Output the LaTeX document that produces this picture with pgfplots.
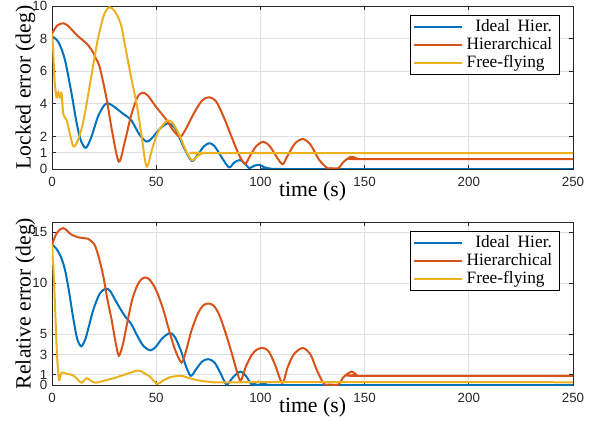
\documentclass[border=0pt]{standalone}
\usepackage{fontspec}
\setmainfont{Liberation Serif}
\newfontfamily\helv{Liberation Sans}
\usepackage{pgfplots}
\pgfplotsset{compat=1.18}
\definecolor{cBlue}{HTML}{0072BD}
\definecolor{cRed}{HTML}{D95319}
\definecolor{cYel}{HTML}{EDB120}
\definecolor{cAx}{HTML}{262626}
\definecolor{cGrid}{HTML}{DFDFDF}

\pgfplotsset{
  errax/.style={
    scale only axis, width=390.75pt, height=122.25pt,
    xmin=0, xmax=250, xtick={0,50,100,150,200,250},
    axis line style={cAx, line width=0.6pt},
    tick style={cAx, line width=0.5pt}, major tick length=3pt,
    tick align=inside,
    grid=major, grid style={cGrid, line width=0.5pt},
    /pgf/number format/assume math mode=true,
    tick label style={font=\helv\fontsize{10}{12}\selectfont, text=cAx},
    xticklabel style={yshift=-2.5pt},
    label style={font=\fontsize{16.3}{18}\selectfont},
    xlabel={time (s)},
    xlabel style={at={(axis description cs:0.5,0)}, anchor=center, yshift=-16.5pt},
    ylabel style={at={(axis description cs:0,0.5)}, anchor=center, yshift=20pt},
    legend style={at={(1,1)}, anchor=north east, xshift=-10.3pt, yshift=-7pt,
      draw=black, line width=0.5pt, fill=white, inner sep=2pt,
      font=\fontsize{13}{13.4}\selectfont,
      nodes={text height=9.6pt, text depth=3pt, inner ysep=0.35pt, inner xsep=3pt}},
    legend cell align=left,
    legend image code/.code={\draw[#1] (0pt,0pt) -- (36pt,0pt);},
    every axis plot/.append style={line width=1.5pt, smooth, tension=0.5},
  }
}

\begin{document}
\begin{tikzpicture}
% top: locked error
\begin{axis}[errax, at={(0pt,0pt)}, anchor=south west,
  ymin=0, ymax=10, ytick={0,1,2,4,6,8,10},
  ylabel={Locked error (deg)}]
\addplot[cBlue] coordinates {(0,8.15)(3,7.8)(6,6.8)(9,4.9)(12,2.7)(14,1.7)(16.3,1.3)(19,2.0)(22,3.2)(25,3.9)(27,4.03)(30,3.8)(34,3.4)(38,3.0)(42,2.1)(45.4,1.68)(48,1.9)(52,2.5)(55.8,2.8)(59,2.5)(63,1.4)(67,0.5)(70,0.9)(73,1.4)(75.5,1.58)(78,1.4)(82,0.6)(85,0.1)(87.5,0.4)(90.2,0.55)(92.5,0.35)(94.7,0.05)(97,0.2)(99.8,0.25)(102,0.1)(105,0.02)(110,0)(250,0)};
\addlegendentry{\hspace{6.5pt}Ideal\hspace{0.45em}Hier.}
\addplot[cRed] coordinates {(0,8.3)(2.5,8.8)(5.4,8.94)(8,8.75)(12,8.2)(16.6,7.7)(19,7.3)(21,6.8)(23,6.2)(26.2,4.3)(29,2.2)(32.1,0.45)(35,1.7)(38,3.3)(41,4.4)(43.5,4.68)(46,4.5)(50,3.8)(55,3.0)(58,2.4)(61.4,1.98)(64,2.4)(68,3.4)(72,4.2)(75.5,4.4)(79,4.1)(83,3.0)(87,1.7)(90,0.8)(92.6,0.3)(95,0.8)(98,1.4)(101.4,1.67)(104.5,1.4)(108,0.7)(110.7,0.3)(113,0.8)(116.5,1.55)(120.3,1.84)(124,1.5)(128,0.6)(131.8,0.08)(134,0.05)(137.4,0.05)(140,0.45)(143.5,0.75)(146,0.66)(148.5,0.61)(250,0.61)};
\addlegendentry{Hierarchical}
\addplot[cYel] coordinates {(0,8.3)(0.5,7.5)(1.2,5.5)(2.2,4.4)(3,4.7)(3.8,4.4)(4.6,4.65)(5.4,3.4)(7,3.0)(8.5,2.2)(10.2,1.4)(12,1.63)(14,2.38)(16,3.56)(19,5.8)(22,7.96)(25,9.47)(27.5,9.92)(30,9.7)(33,8.9)(35,7.6)(38,5.6)(40.6,4.0)(43,2.0)(45.4,0.15)(48,1.2)(51,2.3)(55.3,2.97)(58,2.8)(61.4,2.0)(64,1.2)(67,0.55)(70,0.8)(73,1.0)(78,0.97)(250,0.97)};
\addlegendentry{Free-flying}
\end{axis}
% bottom: relative error
\begin{axis}[errax, at={(0pt,-162pt)}, anchor=south west,
  ymin=0, ymax=16, ytick={0,1,3,5,10,15},
  ylabel={Relative error (deg)}]
\addplot[cBlue] coordinates {(0,13.8)(2,13.4)(4,12.7)(6,11.5)(8,9.4)(10,6.8)(12,4.6)(14,3.8)(16,4.5)(18,6.0)(20,7.5)(23,9.0)(25.9,9.46)(28,9.2)(31,8.1)(35,6.75)(38,6.0)(41,4.8)(44,3.8)(47.4,3.4)(50,3.8)(53,4.6)(56.6,5.1)(59,4.7)(62,3.3)(64,2.0)(66.5,0.9)(69,1.5)(72,2.3)(75,2.54)(78,2.2)(81,1.1)(83.8,0.05)(87,0.8)(90.5,1.32)(93,0.9)(95.8,0.05)(97.5,0.25)(99,0.33)(101,0.2)(103,0.05)(106,0)(250,0)};
\addlegendentry{\hspace{6.5pt}Ideal\hspace{0.45em}Hier.}
\addplot[cRed] coordinates {(0,13.8)(2,14.8)(4,15.3)(5.4,15.4)(7,15.2)(9,14.8)(12.6,14.5)(17.4,14.35)(19,14.1)(20.6,13.7)(22.5,12.5)(24.6,10.7)(26.5,8.5)(28.6,6.4)(30.5,4.2)(32.1,2.87)(34,4.0)(36,6.0)(38.5,8.4)(41,9.8)(43,10.4)(45,10.55)(47,10.3)(50,9.3)(53.4,7.4)(56,5.5)(59,3.5)(62.2,2.2)(64.5,3.5)(67,5.4)(70,7.0)(72.5,7.8)(75,8.0)(77.5,7.8)(80,7.0)(83,5.3)(86,3.3)(88.5,1.5)(90.5,0.42)(93,1.8)(96,3.0)(98.5,3.5)(101.4,3.63)(104,3.3)(107,2.0)(110.5,0.2)(113,1.7)(116,3.0)(120.3,3.63)(124,3.0)(127,1.5)(130.5,0.1)(133,0.05)(137.4,0.05)(140,0.8)(143.8,1.32)(146,1.0)(148,0.9)(250,0.9)};
\addlegendentry{Hierarchical}
\addplot[cYel] coordinates {(0,13.8)(0.8,11)(1.6,7)(2.4,3)(3.4,0.5)(4.6,1.22)(7,1.1)(9.4,1.0)(11,0.82)(12.5,0.5)(14.2,0.23)(16.6,0.66)(18.5,0.45)(20.6,0.23)(24.6,0.4)(31,0.76)(36,1.1)(41.4,1.42)(44,1.2)(47,0.82)(50.5,0.1)(53,0.4)(56.6,0.76)(61.4,0.9)(64,0.8)(67,0.6)(71,0.43)(75,0.32)(80.6,0.25)(90,0.27)(250,0.27)};
\addlegendentry{Free-flying}
\end{axis}
\pgfresetboundingbox
\path[use as bounding box] (-39pt,-194.25pt) rectangle (410.25pt,126.75pt);
\end{tikzpicture}
\end{document}
